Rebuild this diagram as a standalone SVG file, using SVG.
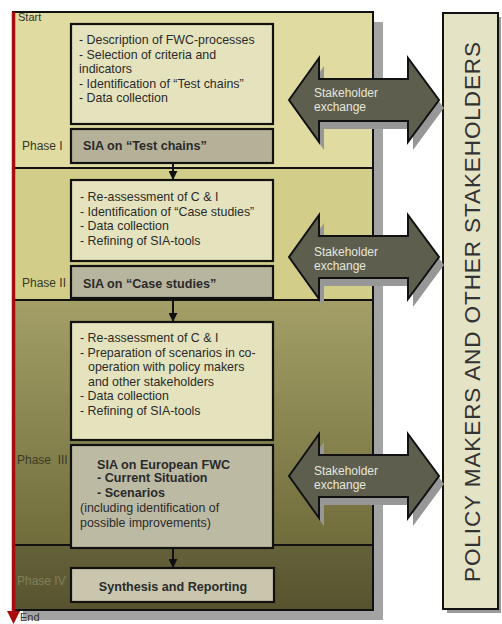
<svg xmlns="http://www.w3.org/2000/svg" width="502" height="624" viewBox="0 0 502 624">
<defs>
<linearGradient id="g3" x1="0" y1="0" x2="0" y2="1">
<stop offset="0" stop-color="#a39f67"/>
<stop offset="1" stop-color="#706d3c"/>
</linearGradient>
<linearGradient id="g4" x1="0" y1="0" x2="0" y2="1">
<stop offset="0" stop-color="#65623a"/>
<stop offset="1" stop-color="#56532e"/>
</linearGradient>
<path id="dbl" d="M0,0 L30,-42 L30,-21 L119,-21 L119,-42 L150,0 L119,42 L119,21 L30,21 L30,42 Z"/>
<marker id="ah" viewBox="0 0 10 10" refX="9" refY="5" markerWidth="4.5" markerHeight="4.5" orient="auto" markerUnits="strokeWidth">
<path d="M0,0 L10,5 L0,10 Z" fill="#111"/>
</marker>
<style>
text{font-family:"Liberation Sans",Arial,sans-serif;}
.body{font-size:12.4px;fill:#2a2a2a;}
.bold{font-size:12.6px;font-weight:bold;fill:#2a2a2a;}
.phase{font-size:12px;fill:#3a3a2a;}
.box{fill:#e5e3bd;stroke:#111;stroke-width:2.2;}
.sep{stroke:#111;stroke-width:1.8;}
.conn{stroke:#111;stroke-width:2;fill:none;marker-end:url(#ah);}
.arw{fill:#5d5e4d;stroke:#111;stroke-width:2;}
.arwsh{fill:#979797;}
.arwt{font-size:12px;fill:#e6e6de;}
</style>
</defs>
<rect width="502" height="624" fill="#ffffff"/>

<g id="frame">
<rect x="23" y="22" width="360" height="598" fill="#a3a3a3"/>
<rect x="13" y="12" width="360" height="156" fill="#dfdba1"/>
<rect x="13" y="168" width="360" height="132" fill="#d2ce8a"/>
<rect x="13" y="300" width="360" height="245" fill="url(#g3)"/>
<rect x="13" y="545" width="360" height="65" fill="url(#g4)"/>
<rect x="13" y="12" width="360" height="598" fill="none" stroke="#111" stroke-width="2"/>
<line class="sep" x1="13" y1="168" x2="373" y2="168"/>
<line class="sep" x1="13" y1="300" x2="373" y2="300"/>
<line class="sep" x1="13" y1="545" x2="373" y2="545"/>
<text x="18" y="21" style="font-size:11px;fill:#333">Start</text>
<text x="20" y="621" style="font-size:11px;fill:#333">End</text>
<text class="phase" x="22" y="149.5">Phase I</text>
<text class="phase" x="22" y="287">Phase II</text>
<text class="phase" x="17" y="464" style="fill:#3c3a26" xml:space="preserve">Phase  III</text>
<text class="phase" x="17" y="585" style="fill:#827f5a">Phase IV</text>
</g>

<g id="timeline">
<line x1="13.5" y1="12" x2="13.5" y2="613" stroke="#a80c0c" stroke-width="3.5"/>
<polygon points="7,611 20,611 13.5,624" fill="#a80c0c"/>
</g>

<g id="phase1-tasks">
<rect class="box" x="71" y="24" width="202" height="100"/>
<text class="body" x="79" y="44">- Description of FWC-processes</text>
<text class="body" x="79" y="58.5">- Selection of criteria and</text>
<text class="body" x="79" y="73">indicators</text>
<text class="body" x="79" y="87.5">- Identification of “Test chains”</text>
<text class="body" x="79" y="102">- Data collection</text>
</g>
<g id="phase1-sia">
<rect class="box" x="71" y="129" width="202" height="34" style="fill:#b5b198"/>
<text class="bold" x="83" y="149.5">SIA on “Test chains”</text>
</g>

<g id="phase2-tasks">
<rect class="box" x="71" y="180" width="202" height="81"/>
<text class="body" x="80" y="201">- Re-assessment of C &amp; I</text>
<text class="body" x="80" y="215.5">- Identification of “Case studies”</text>
<text class="body" x="80" y="230">- Data collection</text>
<text class="body" x="80" y="244.5">- Refining of SIA-tools</text>
</g>
<g id="phase2-sia">
<rect class="box" x="71" y="266" width="202" height="32" style="fill:#b8b59f"/>
<text class="bold" x="83" y="287.5">SIA on “Case studies”</text>
</g>

<g id="phase3-tasks">
<rect class="box" x="71" y="322" width="202" height="118"/>
<text class="body" x="80" y="342">- Re-assessment of C &amp; I</text>
<text class="body" x="80" y="356.5">- Preparation of scenarios in co-</text>
<text class="body" x="88" y="371">operation with policy makers</text>
<text class="body" x="88" y="385.5">and other stakeholders</text>
<text class="body" x="80" y="400">- Data collection</text>
<text class="body" x="80" y="414.5">- Refining of SIA-tools</text>
</g>
<g id="phase3-sia">
<rect class="box" x="71" y="445" width="202" height="103" style="fill:#bdbaa4"/>
<text class="bold" x="97" y="468.5">SIA on European FWC</text>
<text class="bold" x="97" y="482">- Current Situation</text>
<text class="bold" x="97" y="496.5">- Scenarios</text>
<text class="body" x="80" y="511.5">(including identification of</text>
<text class="body" x="80" y="526.5">possible improvements)</text>
</g>

<g id="phase4-synthesis">
<rect class="box" x="71" y="568" width="203" height="34" style="fill:#c9c6ad"/>
<text class="bold" x="173" y="590.5" text-anchor="middle">Synthesis and Reporting</text>
</g>

<g id="stakeholders">
<rect x="447" y="17" width="54" height="596" fill="#9a9a9a"/>
<rect x="443" y="13" width="55" height="596" fill="#e5e3c6" stroke="#111" stroke-width="2"/>
<text transform="translate(480,312) rotate(-90)" text-anchor="middle" textLength="540" style="font-size:22.5px;fill:#333">POLICY MAKERS AND OTHER STAKEHOLDERS</text>
</g>

<g id="exchange1">
<use href="#dbl" class="arwsh" transform="translate(294,108)"/>
<use href="#dbl" class="arw" transform="translate(289,100)"/>
<text class="arwt" x="314" y="97">Stakeholder</text>
<text class="arwt" x="314" y="111">exchange</text>
</g>
<g id="exchange2">
<use href="#dbl" class="arwsh" transform="translate(294,265)"/>
<use href="#dbl" class="arw" transform="translate(289,257)"/>
<text class="arwt" x="314" y="256">Stakeholder</text>
<text class="arwt" x="314" y="270">exchange</text>
</g>
<g id="exchange3">
<use href="#dbl" class="arwsh" transform="translate(294,484)"/>
<use href="#dbl" class="arw" transform="translate(289,476)"/>
<text class="arwt" x="314" y="475">Stakeholder</text>
<text class="arwt" x="314" y="489">exchange</text>
</g>

<g id="connectors">
<line class="conn" x1="173" y1="163" x2="173" y2="179"/>
<line class="conn" x1="173" y1="298" x2="173" y2="321"/>
<line class="conn" x1="173" y1="548" x2="173" y2="567"/>
</g>
</svg>
